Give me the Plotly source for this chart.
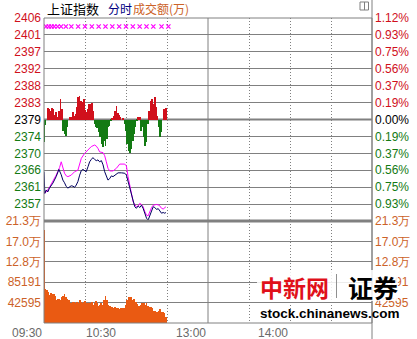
import plotly.graph_objects as go

# ---------------- data ----------------
prev_close = 2379.0
price_step = 4.44          # one grid step = 0.1867 % of previous close

price_tick_labels = ["", "2357", "2361", "2366", "2370", "2374", "2379",
                     "2383", "2388", "2392", "2397", "2401", "2406"]
pct_tick_labels = ["", "0.93%", "0.75%", "0.56%", "0.37%", "0.19%", "0.00%",
                   "0.19%", "0.37%", "0.56%", "0.75%", "0.93%", "1.12%"]
vol_tick_vals = [42595, 85191, 127786, 170382, 212977]
vol_tick_labels = ["42595", "85191", "12.8万", "17.0万", "21.3万"]

time_labels = ["09:30", "10:30", "13:00", "14:00"]
time_label_at = [0, 54, 120, 180]          # minutes after 09:30

price_t = [0, 0.6, 1.6, 2.8, 4.0, 6.5, 8.9, 10.2, 10.9, 12.6,
           13.8, 15.0, 16.3, 17.5, 18.7, 19.9, 21.2, 22.4, 23.6, 24.8,
           26.1, 27.3, 28.5, 29.7, 30.9, 32.2, 33.4, 34.6, 35.8, 37.1,
           38.3, 39.5, 40.7, 42.0, 43.2, 44.4, 45.6, 46.8, 48.1, 49.3,
           50.5, 51.7, 53.0, 54.2, 56.6, 59.1, 60.3, 61.5, 62.8, 64.0,
           65.2, 66.4, 67.6, 68.9, 70.1, 71.3, 72.5, 73.8, 75.0, 76.2,
           77.4, 78.7, 79.9, 81.1, 82.3, 83.6, 84.8, 86.0, 87.2, 88.4, 89.2]
price_v = [2365.3, 2359.6, 2360.5, 2360.0, 2361.0, 2362.3, 2364.0, 2365.7, 2365.9, 2364.5,
           2363.1, 2362.4, 2361.4, 2361.0, 2361.2, 2361.6, 2361.5, 2361.2, 2361.8, 2362.7,
           2364.4, 2365.6, 2365.9, 2365.7, 2365.3, 2366.6, 2367.9, 2368.5, 2369.0, 2368.5,
           2368.2, 2368.4, 2367.9, 2368.2, 2367.1, 2365.3, 2364.0, 2363.1, 2363.5, 2364.2,
           2364.0, 2364.4, 2364.7, 2365.0, 2365.0, 2364.9, 2364.4, 2362.7, 2360.5, 2358.9,
           2357.0, 2356.1, 2355.7, 2356.3, 2355.9, 2356.5, 2355.7, 2354.5, 2353.1, 2352.6,
           2353.7, 2355.2, 2356.1, 2355.9, 2355.4, 2355.6, 2354.8, 2354.4, 2354.6, 2354.4, 2354.6]

avg_t = [0, 1.6, 4.0, 6.5, 8.9, 10.2, 11.4, 12.6, 13.8, 15.0,
         16.3, 17.5, 19.9, 22.4, 24.8, 26.1, 27.3, 29.7, 32.2, 34.6,
         37.1, 38.3, 39.5, 40.7, 43.2, 44.4, 45.6, 46.8, 48.1, 50.5,
         53.0, 55.4, 59.1, 60.3, 61.5, 62.8, 64.0, 65.2, 66.4, 67.6,
         68.9, 70.1, 71.3, 72.5, 73.8, 75.0, 76.2, 77.4, 78.7, 79.9,
         82.3, 84.3, 86.0, 87.2, 88.4, 89.2]
avg_v = [2359.6, 2360.0, 2361.2, 2362.7, 2364.4, 2365.4, 2366.4, 2367.9, 2366.6, 2364.9,
         2364.2, 2364.0, 2364.4, 2365.3, 2365.7, 2367.5, 2368.8, 2370.1, 2371.0, 2371.9,
         2372.3, 2372.0, 2371.4, 2370.5, 2370.3, 2369.5, 2367.9, 2366.2, 2365.5, 2365.5,
         2366.2, 2367.3, 2367.3, 2366.8, 2364.0, 2361.4, 2359.2, 2357.4, 2356.7, 2356.1,
         2356.3, 2357.0, 2356.7, 2356.1, 2354.8, 2353.9, 2353.7, 2354.8, 2355.9, 2356.5,
         2356.7, 2356.5, 2355.7, 2355.5, 2355.9, 2356.1]

bar_t = list(range(90))
breadth = [-22, -5, 0, 12, 11, 9, 12, 11, 5, 8,
           3, 9, 21, 11, -11, -14, -16, -7, 0, 3,
           3, 8, 4, 6, 13, 23, 24, 19, 18, 21,
           10, 8, 11, 16, 16, 17, 9, -4, -7, -8,
           -12, -17, -24, -27, -21, -26, -19, -7, -6, -1,
           2, 4, 9, 14, 7, 5, 3, 0, 2, -4,
           -11, -24, -31, -33, -29, -21, -14, -7, -1, 3,
           3, -11, -7, -17, -26, -22, -4, 9, 19, 21,
           16, 23, 13, 4, -7, -17, -12, 0, 11, 12]
breadth_limit = 101.5

cross_t = [1.5, 3.5, 5.5, 7.5, 10, 12.5,
           16, 20, 25, 30, 35, 40, 45, 50, 55, 60, 65, 70, 75, 80, 86, 91]
cross_level = 93

volume = [194000, 71000, 68900, 65400, 58500, 61900, 60600, 60600, 56400, 48000,
          50100, 49400, 48000, 53600, 56400, 60600, 53600, 50800, 48000, 41100,
          42500, 44500, 44500, 42500, 44500, 42500, 48000, 43800, 42500, 44500,
          46600, 42500, 41100, 37600, 41100, 44500, 37600, 41100, 45900, 42500,
          35500, 37600, 41100, 37600, 48000, 56400, 48000, 37600, 35500, 34100,
          32700, 30600, 32700, 30600, 32000, 28500, 30600, 28500, 30600, 30600,
          37600, 48000, 53600, 51500, 53600, 48000, 49400, 44500, 39700, 35500,
          35500, 37600, 41100, 41100, 37600, 41100, 35500, 32700, 32700, 30600,
          25800, 25800, 23700, 23700, 25800, 28500, 23700, 23700, 20200, 11800]
vol_max = 212977

# ---------------- styles ----------------
RED = "#d0101c"
GREEN = "#137a13"
BLACK = "#000000"
ORANGE = "#cc6228"
GRID = "#808080"
FONT = "Liberation Sans"
CJK = "Noto Sans CJK SC"

W, H = 417, 339
ML, MR, MT, MB = 44, 45, 18, 16
PW, PH = W - ML - MR, H - MT - MB
VOL_FRAC = 102 / PH


def PX(px):
    return (px - ML) / PW


def PY(py):
    return (H - MB - py) / PH


def colored(labels, colors):
    return [f'<span style="color:{c}">{t}</span>' for t, c in zip(labels, colors)]


ks = list(range(-6, 7))
price_tick_vals = [prev_close + k * price_step for k in ks]
side_colors = [RED if k > 0 else (BLACK if k == 0 else GREEN) for k in ks]
price_range = [prev_close - 6 * price_step, prev_close + 6 * price_step]

fig = go.Figure()

fig.add_trace(go.Bar(x=bar_t, y=volume, xaxis="x", yaxis="y", width=0.72,
                     marker=dict(color="#ea5a12", line=dict(width=0)),
                     hoverinfo="skip"))
fig.add_trace(go.Bar(x=bar_t, y=breadth, xaxis="x", yaxis="y5", width=0.55,
                     marker=dict(color=[RED if b >= 0 else GREEN for b in breadth],
                                 line=dict(width=0)),
                     hoverinfo="skip"))
fig.add_trace(go.Scatter(x=cross_t, y=[cross_level] * len(cross_t), xaxis="x", yaxis="y5",
                         mode="markers",
                         marker=dict(symbol="x-thin", size=4.2,
                                     line=dict(width=1.2, color="#ff00ff")),
                         hoverinfo="skip"))
fig.add_trace(go.Scatter(x=avg_t, y=avg_v, xaxis="x", yaxis="y2", mode="lines",
                         line=dict(color="#ff00ff", width=1), hoverinfo="skip"))
fig.add_trace(go.Scatter(x=price_t, y=price_v, xaxis="x", yaxis="y2", mode="lines",
                         line=dict(color="#000060", width=1), hoverinfo="skip"))
# invisible anchors so the right-hand label axes are rendered
fig.add_trace(go.Scatter(x=[0], y=[prev_close], xaxis="x", yaxis="y3", mode="markers",
                         marker=dict(opacity=0), hoverinfo="skip"))
fig.add_trace(go.Scatter(x=[0], y=[0], xaxis="x", yaxis="y4", mode="markers",
                         marker=dict(opacity=0), hoverinfo="skip"))

tickfont = dict(family=FONT, size=12)

fig.update_layout(
    width=W, height=H,
    margin=dict(l=ML, r=MR, t=MT, b=MB, pad=0, autoexpand=False),
    paper_bgcolor="white", plot_bgcolor="white",
    showlegend=False, barmode="overlay", bargap=0,
    xaxis=dict(range=[0, 240], domain=[0, 1], anchor="y", automargin=False,
               tickvals=[30, 60, 90, 150, 180, 210], showticklabels=False,
               showgrid=True, gridcolor=GRID, griddash="1px,2px", gridwidth=1,
               zeroline=False, showline=False, ticks=""),
    yaxis=dict(domain=[0, VOL_FRAC], range=[0, vol_max], anchor="x", automargin=False,
               tickvals=vol_tick_vals,
               ticktext=colored(vol_tick_labels, [ORANGE] * 5),
               tickfont=tickfont, showgrid=True, gridcolor=GRID, zeroline=False,
               ticks="", ticklabelstandoff=2),
    yaxis2=dict(domain=[VOL_FRAC, 1], range=price_range, anchor="x", automargin=False,
                tickvals=price_tick_vals,
                ticktext=colored(price_tick_labels, side_colors),
                tickfont=tickfont, showgrid=True, gridcolor=GRID, zeroline=False,
                ticks="", ticklabelstandoff=2),
    yaxis3=dict(overlaying="y2", side="right", range=price_range, anchor="x",
                automargin=False,
                tickvals=price_tick_vals,
                ticktext=colored(pct_tick_labels, side_colors),
                tickfont=tickfont, showgrid=False, zeroline=False, ticks="",
                ticklabelstandoff=2),
    yaxis4=dict(overlaying="y", side="right", range=[0, vol_max], anchor="x",
                automargin=False,
                tickvals=vol_tick_vals,
                ticktext=colored(vol_tick_labels, [ORANGE] * 5),
                tickfont=tickfont, showgrid=False, zeroline=False, ticks="",
                ticklabelstandoff=2),
    yaxis5=dict(overlaying="y2", range=[-breadth_limit, breadth_limit], anchor="x",
                automargin=False, visible=False),
)

shapes = []
# heavy zero line and panel separator
shapes.append(dict(type="line", xref="paper", yref="y2", x0=0, x1=1,
                   y0=prev_close, y1=prev_close, line=dict(color=GRID, width=2),
                   layer="between"))
shapes.append(dict(type="line", xref="paper", yref="paper", x0=0, x1=1,
                   y0=VOL_FRAC, y1=VOL_FRAC, line=dict(color=GRID, width=3)))
# solid lunch-break line
shapes.append(dict(type="line", xref="x", yref="paper", x0=120, x1=120, y0=0, y1=1,
                   line=dict(color=GRID, width=1), layer="between"))
# frame
shapes.append(dict(type="rect", xref="paper", yref="paper", x0=0, x1=1, y0=0, y1=1,
                   line=dict(color=GRID, width=1)))
shapes.append(dict(type="line", xref="paper", yref="paper", x0=1, x1=1,
                   y0=PY(H), y1=PY(0), line=dict(color=GRID, width=1)))
# small window icon top right
shapes.append(dict(type="rect", xref="paper", yref="paper", x0=PX(360), x1=PX(368.5),
                   y0=PY(10), y1=PY(2), line=dict(color="#808080", width=1)))
shapes.append(dict(type="line", xref="paper", yref="paper", x0=PX(364.5), x1=PX(364.5),
                   y0=PY(10), y1=PY(2), line=dict(color="#808080", width=1)))
# watermark backing
shapes.append(dict(type="rect", xref="paper", yref="paper", x0=PX(257), x1=PX(398),
                   y0=PY(301), y1=PY(270), line=dict(width=0),
                   fillcolor="rgba(255,255,255,0.85)"))
shapes.append(dict(type="line", xref="paper", yref="paper", x0=PX(336.5), x1=PX(336.5),
                   y0=PY(298), y1=PY(274), line=dict(color="#909090", width=1)))
fig.update_layout(shapes=shapes)

ann = []
ann.append(dict(text="上证指数", xref="paper", yref="paper", x=PX(45), y=PY(8.5),
                xanchor="left", yanchor="middle", showarrow=False,
                font=dict(family=CJK, size=13, color="#000000")))
ann.append(dict(text="分时", xref="paper", yref="paper", x=PX(106), y=PY(8.5),
                xanchor="left", yanchor="middle", showarrow=False,
                font=dict(family=CJK, size=12, color="#000080")))
ann.append(dict(text="成交额(万)", xref="paper", yref="paper", x=PX(131), y=PY(8.5),
                xanchor="left", yanchor="middle", showarrow=False,
                font=dict(family=CJK, size=12, color=ORANGE)))
for lab, t in zip(time_labels, time_label_at):
    ann.append(dict(text=lab, xref="x", yref="paper", x=t, y=0, xanchor="right",
                    yanchor="top", yshift=-1, showarrow=False,
                    font=dict(family=FONT, size=12, color="#6a6a6a")))
# watermark
ann.append(dict(text="<b>中新网</b>", xref="paper", yref="paper", x=PX(294), y=PY(287),
                xanchor="center", yanchor="middle", showarrow=False,
                font=dict(family=CJK, size=23, color="#e0101a")))
ann.append(dict(text="<b>证券</b>", xref="paper", yref="paper", x=PX(373), y=PY(287),
                xanchor="center", yanchor="middle", showarrow=False,
                font=dict(family=CJK, size=25, color="#000000")))
ann.append(dict(text="<b>stock.chinanews.com</b>", xref="paper", yref="paper",
                x=PX(330), y=PY(313.5), xanchor="center", yanchor="middle",
                showarrow=False, font=dict(family=FONT, size=13.5, color="#000000")))
fig.update_layout(annotations=ann)

fig.write_html("out.html")
